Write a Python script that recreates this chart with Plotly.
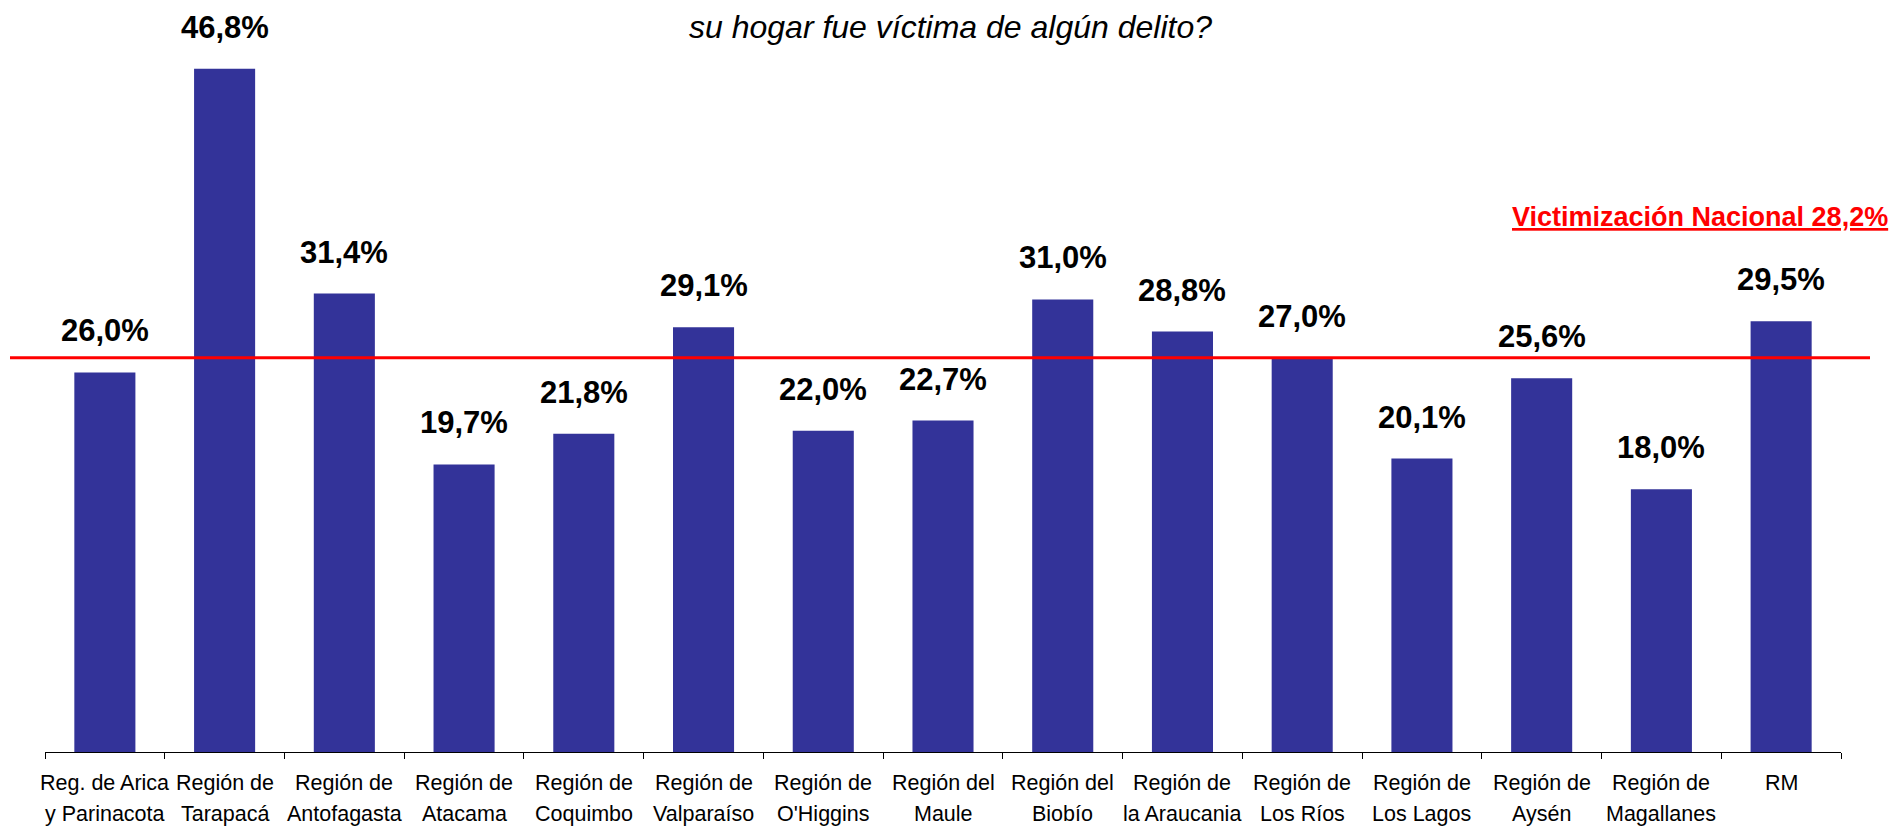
import plotly.graph_objects as go

regions_line1 = ["Reg. de Arica", "Región de", "Región de", "Región de", "Región de",
                 "Región de", "Región de", "Región del", "Región del", "Región de",
                 "Región de", "Región de", "Región de", "Región de", "RM"]
regions_line2 = ["y Parinacota", "Tarapacá", "Antofagasta", "Atacama", "Coquimbo",
                 "Valparaíso", "O'Higgins", "Maule", "Biobío", "la Araucania",
                 "Los Ríos", "Los Lagos", "Aysén", "Magallanes", ""]
values = [26.0, 46.8, 31.4, 19.7, 21.8, 29.1, 22.0, 22.7, 31.0, 28.8, 27.0, 20.1, 25.6, 18.0, 29.5]
labels = ["26,0%", "46,8%", "31,4%", "19,7%", "21,8%", "29,1%", "22,0%", "22,7%", "31,0%",
          "28,8%", "27,0%", "20,1%", "25,6%", "18,0%", "29,5%"]
national_label = "Victimización Nacional 28,2%"
national_line_level = 27.0
title_text = "su hogar fue víctima de algún delito?"

cats = [f"{a} {b}".strip() for a, b in zip(regions_line1, regions_line2)]

FONT = "Liberation Sans, Arial, sans-serif"
BAR = "#333399"

fig = go.Figure()
fig.add_trace(go.Bar(x=cats, y=values, marker=dict(color=BAR, line=dict(width=0)),
                     hoverinfo="skip"))

ann = []
for c, v, t in zip(cats, values, labels):
    ann.append(dict(x=c, y=v, xref="x", yref="y", text=f"<b>{t}</b>", showarrow=False,
                    yanchor="bottom", yshift=22, font=dict(family=FONT, size=31, color="black")))
for c, l1, l2 in zip(cats, regions_line1, regions_line2):
    ann.append(dict(x=c, y=0, xref="x", yref="paper", text=l1, showarrow=False,
                    yanchor="middle", yshift=-31, font=dict(family=FONT, size=21.5, color="black")))
    if l2:
        ann.append(dict(x=c, y=0, xref="x", yref="paper", text=l2, showarrow=False,
                        yanchor="middle", yshift=-62, font=dict(family=FONT, size=21.5, color="black")))

# title (only its second line is visible in the frame)
ann.append(dict(x=0.5, y=1, xref="paper", yref="paper", text=f"<i>{title_text}</i>",
                showarrow=False, xanchor="center", yanchor="top", yshift=1, xshift=7,
                font=dict(family=FONT, size=32, color="black")))
# national label
ann.append(dict(x=(1510 - 45) / 1796, y=national_line_level, xref="paper", yref="y",
                text=f"<b>{national_label}</b>", showarrow=False, xanchor="left",
                yanchor="bottom", yshift=124,
                font=dict(family=FONT, size=27, color="red", lineposition="under")))

fig.add_shape(type="line", xref="paper", yref="y", x0=(10 - 45) / 1796, x1=(1870 - 45) / 1796,
              y0=national_line_level, y1=national_line_level, line=dict(color="red", width=3))

fig.update_layout(
    width=1891, height=818,
    margin=dict(l=37, r=58, t=0, b=74),
    paper_bgcolor="white", plot_bgcolor="white",
    bargap=0.49, showlegend=False,
    annotations=ann,
    xaxis=dict(type="category", showline=True, linecolor="black", linewidth=1,
               ticks="outside", tickson="boundaries", ticklen=6, tickcolor="black",
               showticklabels=False, showgrid=False, zeroline=False, range=[-0.5, 14.5]),
    yaxis=dict(range=[0, 50.96], visible=False, showgrid=False, zeroline=False),
)

fig.write_html("out.html")
